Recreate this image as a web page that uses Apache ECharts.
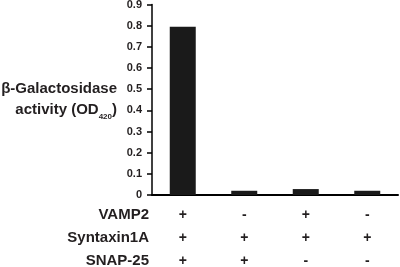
<!DOCTYPE html>
<html>
<head>
<meta charset="utf-8">
<script src="https://cdn.jsdelivr.net/npm/echarts@6/dist/echarts.min.js"></script>
<style>
  html, body { margin: 0; padding: 0; background: #ffffff; }
  #chart { width: 400px; height: 267px; }
</style>
</head>
<body>
<div id="chart"></div>
<script>
// data
var conditions = ["c1", "c2", "c3", "c4"];
var activity = [0.795, 0.02, 0.028, 0.02];
var vamp2 = ["+", "-", "+", "-"];
var syntaxin1A = ["+", "+", "+", "+"];
var snap25 = ["+", "+", "-", "-"];
var rowNames = ["VAMP2", "Syntaxin1A", "SNAP-25"];

var myChart = echarts.init(document.getElementById("chart"));
var font = "Liberation Sans, Arial, sans-serif";
var rowY = [216, 239, 262];

myChart.setOption({
  animation: false,
  grid: {
    top: 4.5,
    left: 152,
    right: 2,
    bottom: 72,
    containLabel: false,
    outerBoundsMode: "none"
  },
  xAxis: {
    type: "category",
    data: conditions,
    axisLine: {
      lineStyle: { color: "#000", width: 2 }
    },
    axisTick: { show: false },
    axisLabel: {
      margin: 9,
      fontFamily: font,
      fontWeight: "bold",
      fontSize: 14,
      color: "#231f20",
      lineHeight: 23,
      formatter: function (v, i) {
        return vamp2[i] + "\n" + syntaxin1A[i] + "\n" + snap25[i];
      }
    }
  },
  yAxis: {
    type: "value",
    min: 0,
    max: 0.9,
    interval: 0.1,
    name: "{a|β-Galactosidase}\n{a|activity (OD}{s|420}{a|)}",
    nameLocation: "middle",
    nameRotate: 0,
    nameGap: 35,
    nameTextStyle: {
      rich: {
        a: { fontFamily: font, fontWeight: "bold", fontSize: 15, color: "#231f20", lineHeight: 21 },
        s: { fontFamily: font, fontWeight: "bold", fontSize: 8, color: "#231f20", lineHeight: 21, verticalAlign: "bottom", padding: [6, 0, 0, 0] }
      }
    },
    axisLine: {
      show: true,
      lineStyle: { color: "#000", width: 1.5 }
    },
    axisTick: {
      show: true,
      length: 5,
      lineStyle: { color: "#000", width: 1.5 }
    },
    axisLabel: {
      margin: 10,
      fontFamily: font,
      fontWeight: "bold",
      fontSize: 11,
      color: "#231f20",
      formatter: function (v) {
        return v === 0 ? "0" : v.toFixed(1);
      }
    },
    splitLine: { show: false }
  },
  graphic: rowNames.map(function (name, i) {
    return {
      type: "text",
      right: 251,
      top: rowY[i] - 9,
      style: {
        text: name,
        font: "bold 15px " + font,
        fill: "#231f20",
        textAlign: "right"
      }
    };
  }),
  series: [
    {
      type: "bar",
      data: activity,
      barWidth: 26,
      itemStyle: { color: "#1a1a1a" }
    }
  ]
});
</script>
</body>
</html>
